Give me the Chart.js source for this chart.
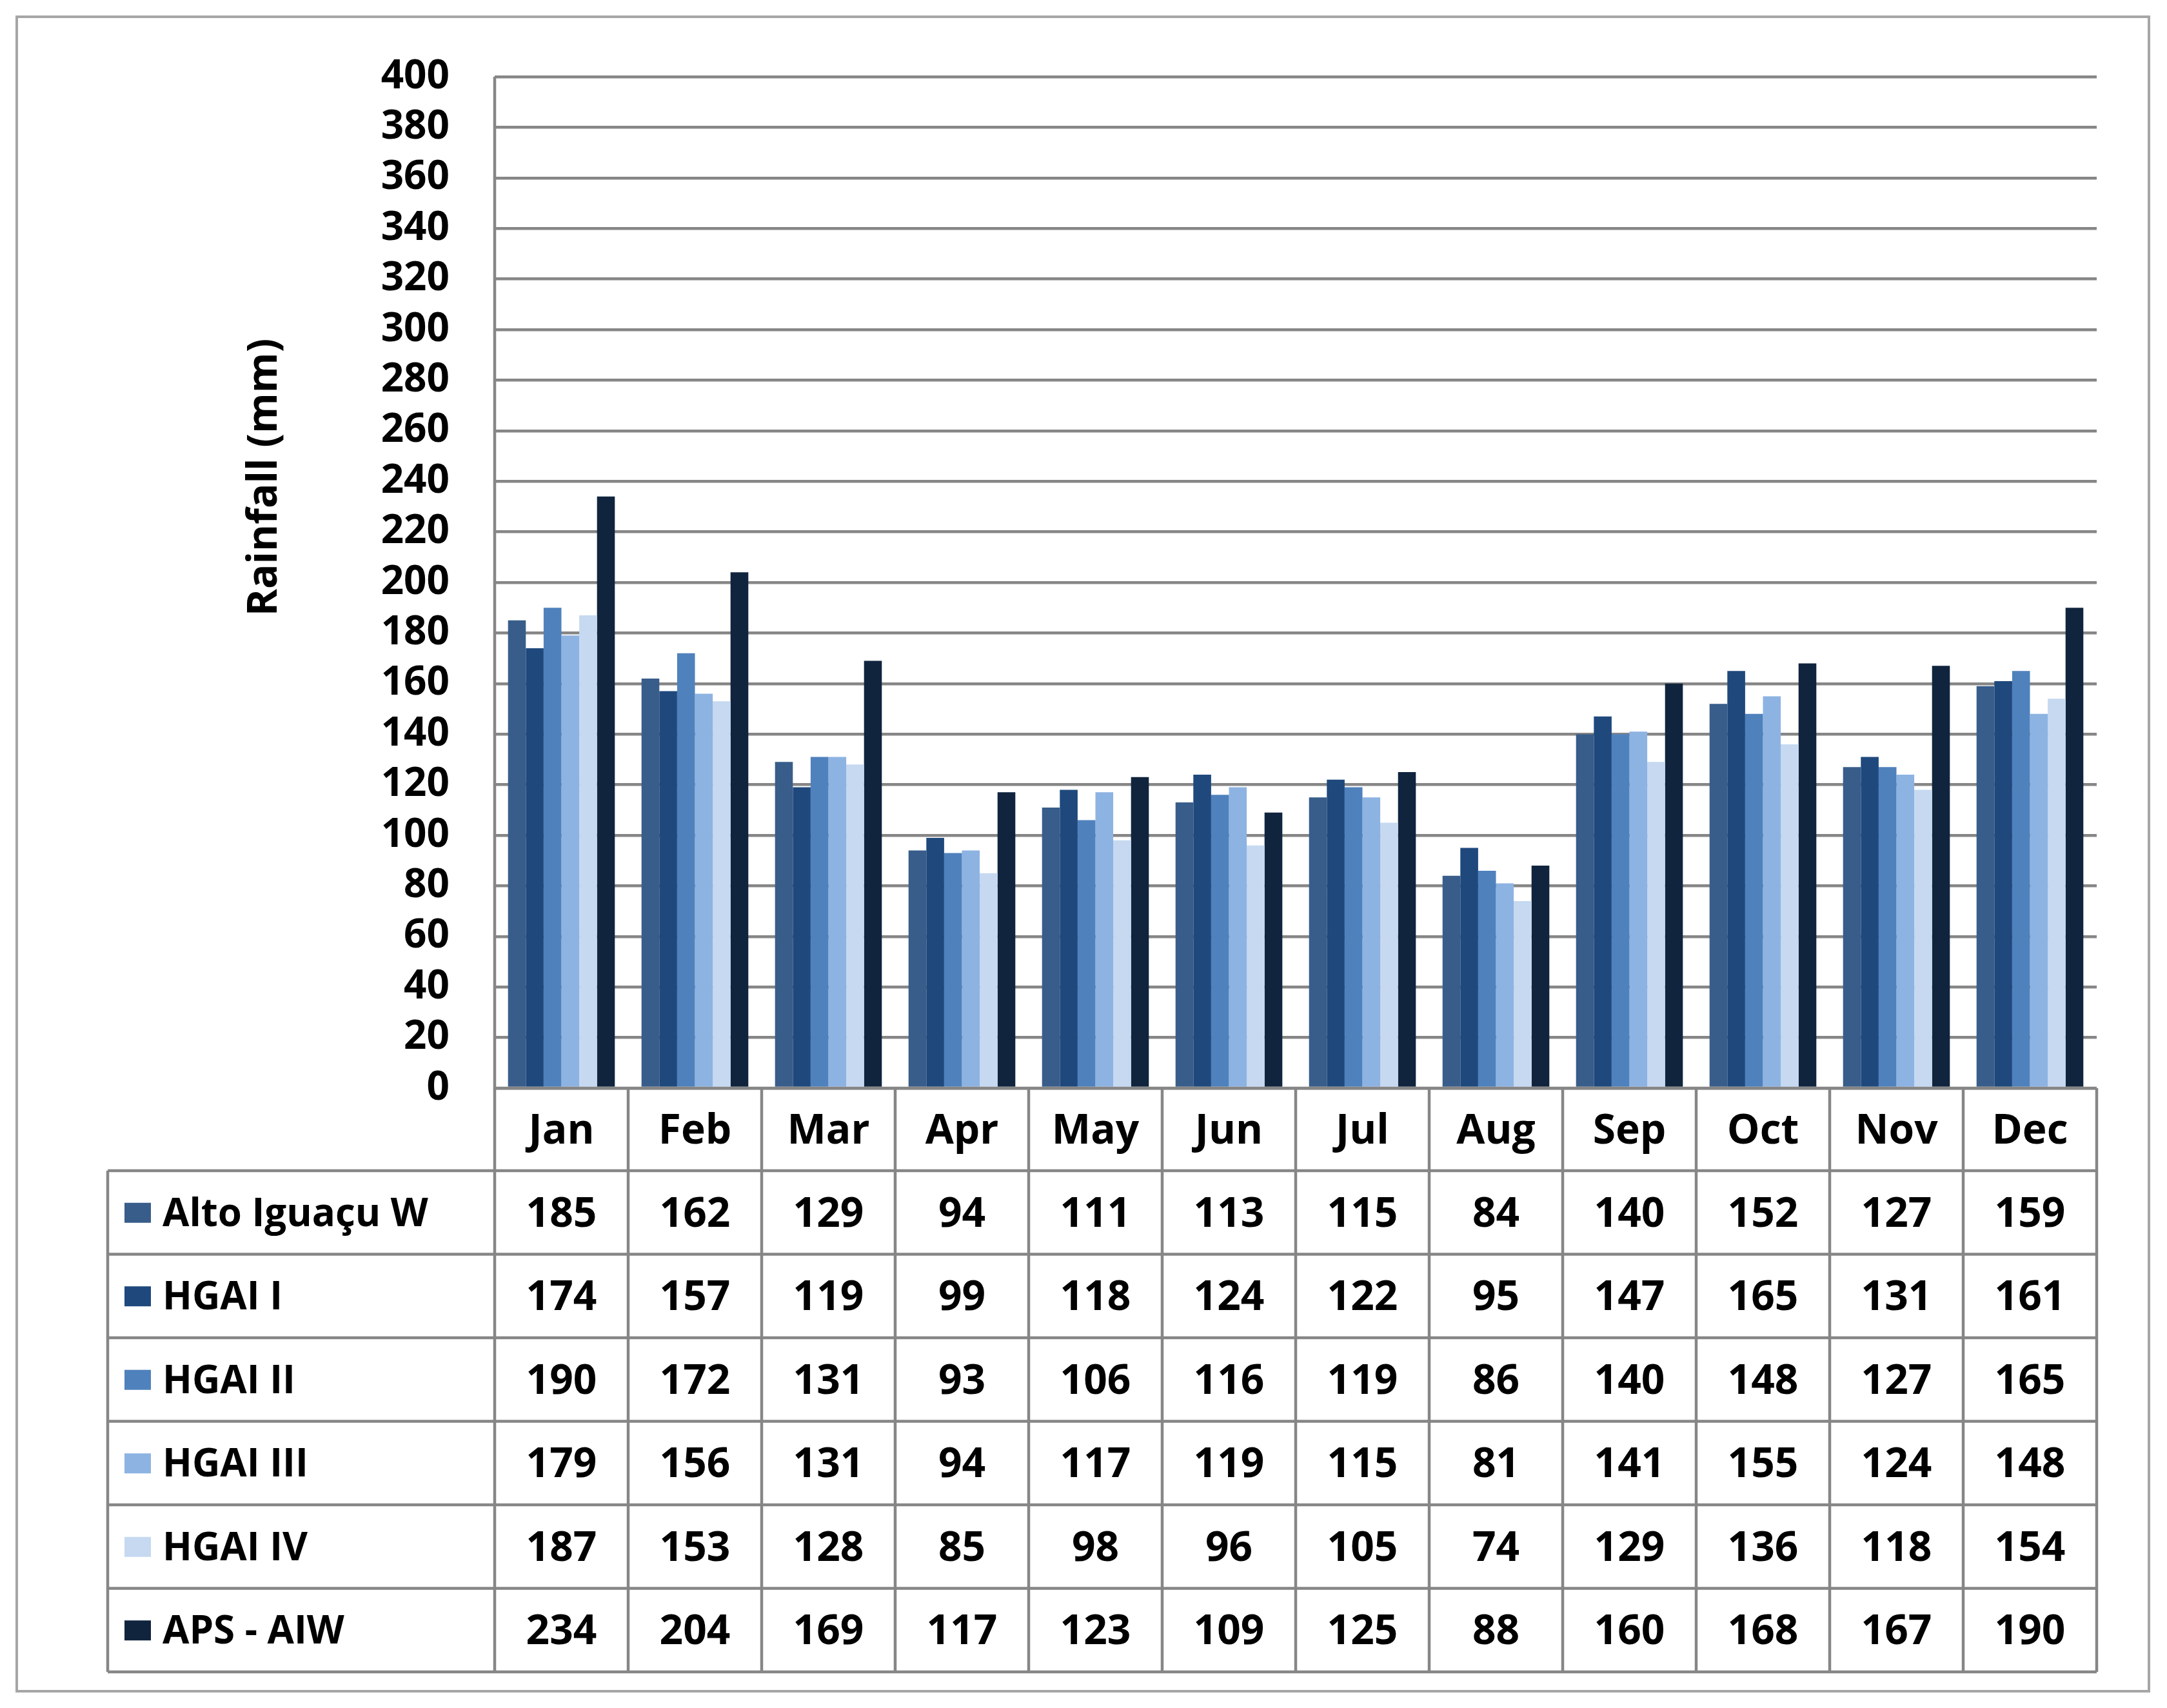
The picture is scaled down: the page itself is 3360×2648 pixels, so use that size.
<!DOCTYPE html>
<html><head><meta charset="utf-8">
<script src="https://cdn.jsdelivr.net/npm/chart.js@4"></script>
<style>html,body{margin:0;padding:0;background:#fff}#w{width:3360px;height:2648px;position:relative}</style>
</head><body><div id="w"><canvas id="c" width="3360" height="2648"></canvas></div>
<script>
const categories=["Jan","Feb","Mar","Apr","May","Jun","Jul","Aug","Sep","Oct","Nov","Dec"];
const seriesNames=["Alto Iguaçu W","HGAI I","HGAI II","HGAI III","HGAI IV","APS - AIW"];
const altoIguacuW=[185,162,129,94,111,113,115,84,140,152,127,159];
const hgaiI=[174,157,119,99,118,124,122,95,147,165,131,161];
const hgaiII=[190,172,131,93,106,116,119,86,140,148,127,165];
const hgaiIII=[179,156,131,94,117,119,115,81,141,155,124,148];
const hgaiIV=[187,153,128,85,98,96,105,74,129,136,118,154];
const apsAIW=[234,204,169,117,123,109,125,88,160,168,167,190];
const yTicks=[0,20,40,60,80,100,120,140,160,180,200,220,240,260,280,300,320,340,360,380,400];
const colors=["#385D8A","#1F497D","#4F81BD","#8DB3E2","#C6D9F1","#10243E"];
const allSeries=[altoIguacuW,hgaiI,hgaiII,hgaiIII,hgaiIV,apsAIW];
const FONT='"Open Sans", "DejaVu Sans", sans-serif';
const GRID='#868686';
const tablePlugin={id:'tbl',afterDraw(ch){
  const ctx=ch.ctx,x=ch.scales.x,a=ch.chartArea;
  const L=167,R=a.right,top=a.bottom,catH=128,rowH=129.5;
  const bounds=[];const n=categories.length;const w=(R-a.left)/n;
  for(let i=0;i<=n;i++)bounds.push(a.left+i*w);
  const bottom=top+catH+rowH*6;
  ctx.save();ctx.strokeStyle=GRID;ctx.lineWidth=4.5;
  ctx.beginPath();
  bounds.forEach((b,i)=>{ctx.moveTo(b,i===0?a.top:top);ctx.lineTo(b,bottom);});
  ctx.moveTo(L,top+catH);ctx.lineTo(L,bottom);
  ctx.moveTo(a.left,top);ctx.lineTo(R,top);
  for(let r=0;r<=6;r++){const y=top+catH+r*rowH;ctx.moveTo(L,y);ctx.lineTo(R,y);}
  ctx.stroke();
  ctx.fillStyle='#000';ctx.textBaseline='middle';ctx.textAlign='center';
  ctx.font='bold 64px '+FONT;
  categories.forEach((c,i)=>ctx.fillText(c,x.getPixelForValue(i),top+catH/2+4));
  for(let r=0;r<6;r++){
    const yc=top+catH+r*rowH+rowH/2+4;
    ctx.textAlign='center';ctx.font='bold 64px '+FONT;
    allSeries[r].forEach((v,i)=>ctx.fillText(String(v),x.getPixelForValue(i),yc));
    ctx.fillStyle=colors[r];ctx.fillRect(193,yc-19,41,31);
    ctx.fillStyle='#000';ctx.textAlign='left';ctx.font='bold 60px '+FONT;
    ctx.fillText(seriesNames[r],252,yc);
  }
  // y title
  ctx.save();ctx.translate(411,740);ctx.rotate(-Math.PI/2);
  ctx.textAlign='center';ctx.font='bold 64px '+FONT;ctx.fillText('Rainfall (mm)',0,0);ctx.restore();
  ctx.strokeStyle='#A6A6A6';ctx.lineWidth=4;ctx.strokeRect(26,26,3306,2596);
  ctx.restore();
}};
new Chart(document.getElementById('c'),{
  type:'bar',
  data:{labels:categories,datasets:allSeries.map((d,i)=>({label:seriesNames[i],data:d,backgroundColor:colors[i],categoryPercentage:0.8,barPercentage:1}))},
  options:{responsive:false,animation:false,devicePixelRatio:1,
    layout:{padding:{top:119,right:109,bottom:961,left:0}},
    plugins:{legend:{display:false},tooltip:{enabled:false}},
    scales:{
      x:{grid:{display:false,drawTicks:false},border:{display:false},ticks:{display:false}},
      y:{min:0,max:400,afterBuildTicks(s){s.ticks=yTicks.map(v=>({value:v}));},
        grid:{color:GRID,lineWidth:4.5,drawTicks:false},border:{display:false},
        ticks:{color:'#000',font:{family:FONT,weight:'bold',size:62},padding:70},
        afterFit(s){s.width=767;}
      }
    }
  },
  plugins:[tablePlugin]
});
</script></body></html>
